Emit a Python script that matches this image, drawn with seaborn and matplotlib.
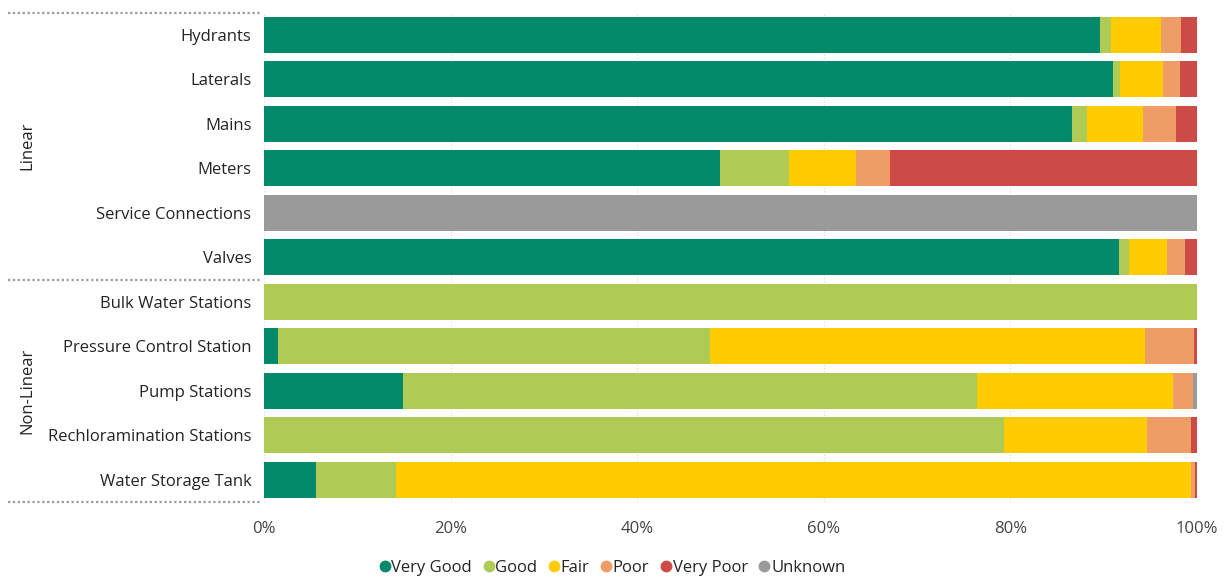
import matplotlib
matplotlib.use("Agg")
import matplotlib.pyplot as plt
import matplotlib.transforms as mtransforms
from matplotlib.lines import Line2D
import numpy as np
import pandas as pd
import seaborn as sns

# Asset classes and their groups
assets = ["Hydrants", "Laterals", "Mains", "Meters", "Service Connections", "Valves",
          "Bulk Water Stations", "Pressure Control Station", "Pump Stations",
          "Rechloramination Stations", "Water Storage Tank"]
groups = ["Linear", "Non-Linear"]
group_sizes = [6, 5]

# Condition shares (% of each asset class)
conditions = ["Very Good", "Good", "Fair", "Poor", "Very Poor", "Unknown"]
very_good = [89.6, 91.0, 86.6, 48.9, 0.0, 91.6, 0.0, 1.5, 14.9, 0.0, 5.6]
good      = [1.2, 0.7, 1.6, 7.4, 0.0, 1.1, 100.0, 46.3, 61.5, 79.3, 8.5]
fair      = [5.3, 4.7, 6.0, 7.1, 0.0, 4.1, 0.0, 46.6, 21.0, 15.3, 85.3]
poor      = [2.2, 1.8, 3.5, 3.7, 0.0, 1.9, 0.0, 5.3, 2.2, 4.8, 0.4]
very_poor = [1.7, 1.8, 2.3, 32.9, 0.0, 1.3, 0.0, 0.3, 0.0, 0.6, 0.2]
unknown   = [0.0, 0.0, 0.0, 0.0, 100.0, 0.0, 0.0, 0.0, 0.4, 0.0, 0.0]

x_ticks = [0, 20, 40, 60, 80, 100]
x_tick_labels = ["0%", "20%", "40%", "60%", "80%", "100%"]

palette = ["#01896A", "#AFCB55", "#FECC00", "#EE9D66", "#CD4B46", "#9A9A9A"]
text_color = "#252423"

sns.set_theme(style="white")
plt.rcParams["font.family"] = ["Open Sans", "DejaVu Sans"]

series = [very_good, good, fair, poor, very_poor, unknown]
df = pd.DataFrame({c: v for c, v in zip(conditions, series)}, index=assets)
df = df.div(df.sum(axis=1), axis=0) * 100
cum = df.cumsum(axis=1)

fig = plt.figure(figsize=(12.29, 5.80), dpi=100)
ax = fig.add_axes([264 / 1229, 78 / 580, 933 / 1229, 489.25 / 580])

# light dotted gridlines behind the bars
for t in x_ticks:
    ax.axvline(t, color="#D9D9D9", lw=0.8, ls=(0, (1, 2)), zorder=0)

# stacked bars: draw cumulative totals from the last condition back to the first
for i in range(len(conditions) - 1, -1, -1):
    sns.barplot(x=cum.iloc[:, i].values, y=assets, orient="h", color=palette[i],
                width=0.81, saturation=1, ax=ax, zorder=2, linewidth=0)

ax.set_xlim(0, 100)
ax.set_ylim(10.5, -0.5)
ax.set_xticks(x_ticks)
ax.set_xticklabels(x_tick_labels, fontsize=12, color="#444444")
ax.tick_params(axis="x", length=0, pad=14)
ax.tick_params(axis="y", length=0, pad=9, labelsize=12, labelcolor=text_color)
ax.set_xlabel("")
ax.set_ylabel("")
for s in ax.spines.values():
    s.set_visible(False)

# group separators and group labels at the left
trans = mtransforms.blended_transform_factory(fig.transFigure, ax.transData)
bounds = [-0.5]
for n in group_sizes:
    bounds.append(bounds[-1] + n)
for b in bounds:
    ax.add_line(Line2D([8 / 1229, 262 / 1229], [b, b], transform=trans, color="#9A9A9A",
                       lw=1.6, ls=(0, (1, 1.2)), clip_on=False))
for g, lo, hi in zip(groups, bounds[:-1], bounds[1:]):
    ax.text(27 / 1229, (lo + hi) / 2, g, transform=trans, rotation=90, ha="center",
            va="center", fontsize=12, color=text_color)

handles = [Line2D([], [], marker="o", ls="", markersize=7.5, markerfacecolor=c,
                  markeredgecolor=c) for c in palette]
fig.legend(handles, conditions, loc="center", bbox_to_anchor=(610 / 1229, 12 / 580),
           ncol=6, frameon=False, fontsize=12, handletextpad=-0.2, columnspacing=0.4,
           labelcolor=text_color, handlelength=1.2)

fig.savefig("out.png", dpi=100)
